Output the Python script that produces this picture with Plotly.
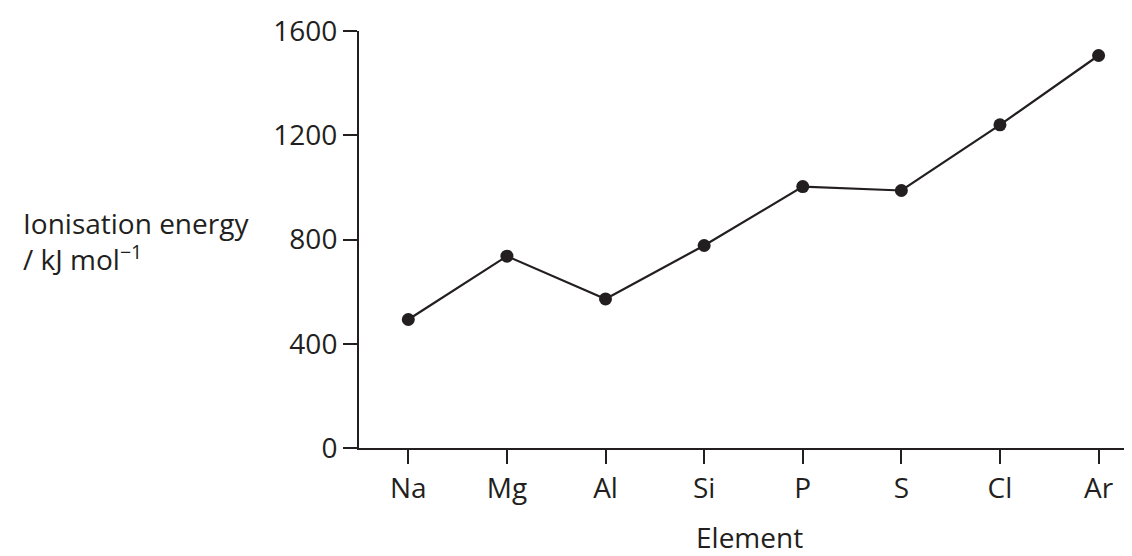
import plotly.graph_objects as go

elements = ["Na", "Mg", "Al", "Si", "P", "S", "Cl", "Ar"]
energy = [493, 736, 572, 777, 1003, 988, 1240, 1506]
y_ticks = [0, 400, 800, 1200, 1600]

INK = "#231f20"
FONT = "Open Sans"

fig = go.Figure(
    go.Scatter(
        x=elements,
        y=energy,
        mode="lines+markers",
        line=dict(color=INK, width=2.2),
        marker=dict(color=INK, size=13),
        cliponaxis=False,
        showlegend=False,
    )
)

fig.update_layout(
    width=1132,
    height=556,
    margin=dict(l=351, r=0, t=23, b=116),
    paper_bgcolor="white",
    plot_bgcolor="white",
    font=dict(family=FONT, size=28, color=INK),
    xaxis=dict(
        type="category",
        categoryorder="array",
        categoryarray=elements,
        range=[-0.5, 7.42],
        showline=True,
        linecolor=INK,
        linewidth=2,
        ticks="outside",
        ticklen=14,
        tickwidth=2,
        tickcolor=INK,
        showgrid=False,
        zeroline=False,
        automargin=False,
    ),
    yaxis=dict(
        range=[0, 1600],
        tickvals=y_ticks,
        ticktext=[str(v) for v in y_ticks],
        showline=True,
        linecolor=INK,
        linewidth=2,
        ticks="outside",
        ticklen=14,
        tickwidth=2,
        tickcolor=INK,
        showgrid=False,
        zeroline=False,
        automargin=False,
    ),
    annotations=[
        dict(
            text="Ionisation energy<br>/ kJ mol<sup>−1</sup>",
            xref="paper",
            yref="paper",
            x=(13 - 351) / 781,
            y=(440 - 233) / 417,
            xanchor="left",
            yanchor="middle",
            align="left",
            showarrow=False,
            font=dict(family=FONT, size=28, color=INK),
        ),
        dict(
            text="Element",
            xref="paper",
            yref="paper",
            x=0.5,
            y=(440 - 529) / 417,
            xanchor="center",
            yanchor="middle",
            showarrow=False,
            font=dict(family=FONT, size=28, color=INK),
        ),
    ],
)

fig.write_html("out.html")
